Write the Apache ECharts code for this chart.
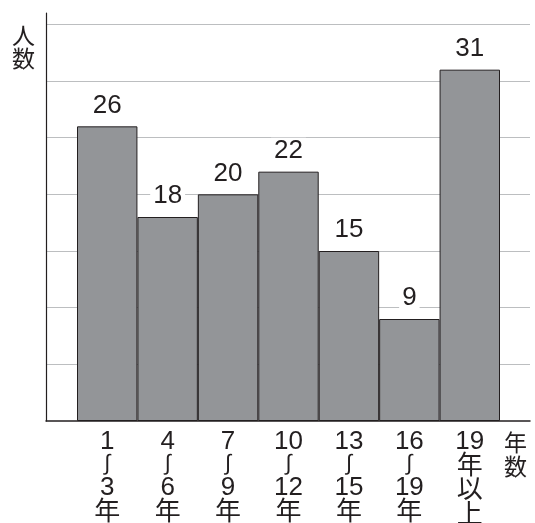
<!DOCTYPE html>
<html>
<head>
<meta charset="utf-8">
<script src="https://cdn.jsdelivr.net/npm/echarts@6/dist/echarts.min.js"></script>
<style>
  html, body { margin: 0; padding: 0; background: #fff; }
  #chart { width: 535px; height: 523px; }
</style>
</head>
<body>
<div id="chart"></div>
<script>
// Years of service groups (stacked vertically under each bar)
const categories = ['1\n≀\n3\n年', '4\n≀\n6\n年', '7\n≀\n9\n年', '10\n≀\n12\n年', '13\n≀\n15\n年', '16\n≀\n19\n年', '19\n年\n以\n上'];
// Number of people in each group
const counts = [26, 18, 20, 22, 15, 9, 31];
// Value axis range and gridline step
const yMax = 36;
const yStep = 5;
// Axis titles
const yAxisTitle = '人\n数';
const xAxisTitle = '年\n数';

const fontFamily = "'Liberation Sans', 'Noto Sans CJK JP', 'DejaVu Sans', sans-serif";
const cjkFont = "'Noto Sans CJK JP', sans-serif";
const ink = '#231f20';

const chart = echarts.init(document.getElementById('chart'), null, { renderer: 'canvas' });

// the range mark is drawn as a tall vertical wave in its own rich style
function categoryLabel(value) {
  return value.split('\n').map(function (line) {
    return line === '≀' ? '{w|∫}' : '{t|' + line + '}';
  }).join('\n');
}

chart.setOption({
  animation: false,
  backgroundColor: '#fff',
  title: [
    { text: yAxisTitle, left: 12, top: 24, padding: 0,
      textStyle: { fontFamily: cjkFont, fontSize: 23, lineHeight: 23, fontWeight: 'normal', color: ink } },
    { text: xAxisTitle, left: 504, top: 430, padding: 0,
      textStyle: { fontFamily: cjkFont, fontSize: 23, lineHeight: 24, fontWeight: 'normal', color: ink } }
  ],
  grid: [
    // frame: axes and horizontal gridlines
    { left: 46, right: 5, top: 13, bottom: 102, outerBoundsMode: 'none', containLabel: false },
    // bars
    { left: 77, right: 35, top: 13, bottom: 102, outerBoundsMode: 'none', containLabel: false }
  ],
  xAxis: [
    { gridIndex: 0, type: 'category', data: [''],
      axisLine: { show: true, lineStyle: { color: ink, width: 1.5 } },
      axisTick: { show: false }, axisLabel: { show: false }, splitLine: { show: false } },
    { gridIndex: 1, type: 'category', data: categories,
      axisLine: { show: false }, axisTick: { show: false },
      axisLabel: {
        interval: 0, margin: 9, color: ink,
        formatter: categoryLabel,
        rich: {
          t: { fontFamily: fontFamily, fontSize: 26, lineHeight: 24.5, color: ink },
          w: { fontFamily: "'Liberation Sans', sans-serif", fontSize: 22, lineHeight: 21.5, padding: [0, 0, 3, 0], color: ink }
        }
      } }
  ],
  yAxis: [
    { gridIndex: 0, type: 'value', min: 0, max: yMax, interval: yStep,
      axisLine: { show: true, lineStyle: { color: ink, width: 1.2 } },
      axisTick: { show: false }, axisLabel: { show: false },
      splitLine: { show: true, showMinLine: false, showMaxLine: false, lineStyle: { color: '#bcbec0', width: 1 } } },
    { gridIndex: 1, type: 'value', min: 0, max: yMax, show: false }
  ],
  series: [{
    type: 'bar',
    xAxisIndex: 1,
    yAxisIndex: 1,
    data: counts,
    barCategoryGap: '0%',
    itemStyle: { color: '#939598', borderColor: ink, borderWidth: 1 },
    label: {
      show: true, position: 'top', distance: 8,
      padding: [0, 3],
      backgroundColor: '#fff',
      fontFamily: fontFamily, fontSize: 26, color: ink
    }
  }]
});
</script>
</body>
</html>
